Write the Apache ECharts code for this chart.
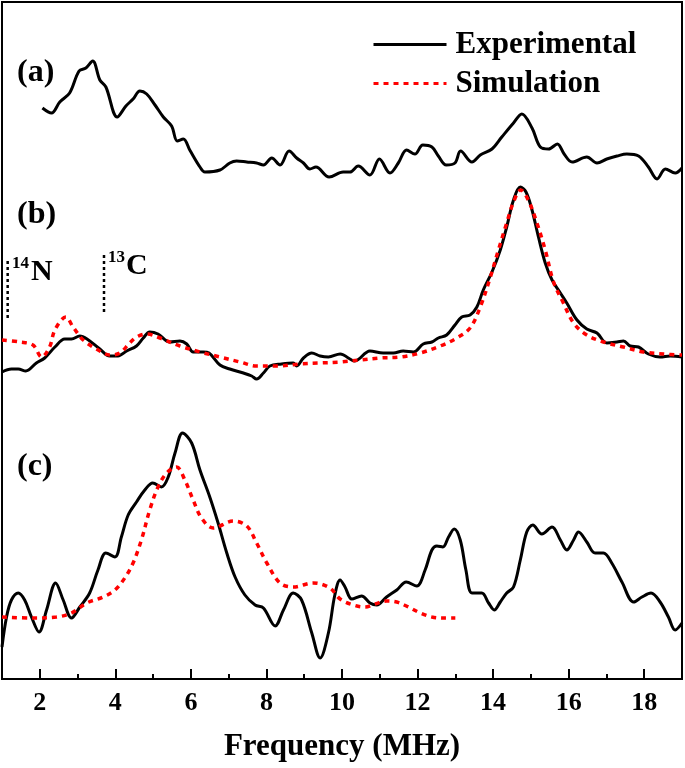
<!DOCTYPE html>
<html>
<head>
<meta charset="utf-8">
<script src="https://cdn.jsdelivr.net/npm/echarts@6/dist/echarts.min.js"></script>
<style>
  body { margin: 0; background: #fff; }
  #main { width: 685px; height: 768px; }
</style>
</head>
<body>
<div id="main"></div>
<script>
// frequency (MHz) vs intensity (a.u., traces offset as in the figure)
var majorTicks = [2, 4, 6, 8, 10, 12, 14, 16, 18];
var minorTicks = [3, 5, 7, 9, 11, 13, 15, 17];

// (a) experimental
var expA = [[2.07,5.71],[2.31,5.66],[2.53,5.77],[2.79,5.86],[3.04,6.08],[3.22,6.11],[3.40,6.18],[3.59,5.99],[3.75,5.92],[4.05,5.62],
  [4.28,5.73],[4.47,5.80],[4.65,5.88],[4.83,5.85],[5.05,5.74],[5.27,5.62],[5.49,5.53],[5.64,5.38],[5.80,5.40],[5.97,5.29],
  [6.24,5.12],[6.37,5.07],[6.77,5.09],[7.03,5.16],[7.21,5.18],[7.48,5.17],[7.74,5.16],[7.92,5.14],[8.14,5.21],[8.36,5.14],
  [8.60,5.28],[8.80,5.21],[8.98,5.16],[9.15,5.10],[9.31,5.12],[9.66,5.02],[10.03,5.07],[10.21,5.07],[10.43,5.13],[10.74,5.04],
  [10.99,5.20],[11.27,5.06],[11.49,5.16],[11.71,5.29],[11.93,5.25],[12.14,5.34],[12.38,5.32],[12.55,5.23],[12.76,5.14],[12.99,5.16],
  [13.14,5.28],[13.44,5.17],[13.66,5.24],[13.97,5.30],[14.23,5.42],[14.54,5.56],[14.76,5.65],[15.03,5.51],[15.25,5.32],[15.47,5.30],
  [15.70,5.35],[15.88,5.25],[16.09,5.17],[16.48,5.22],[16.75,5.16],[17.01,5.20],[17.28,5.23],[17.54,5.25],[17.85,5.23],[18.11,5.12],
  [18.34,5.00],[18.56,5.10],[18.82,5.06],[19.00,5.11]];

// (b) experimental + simulation
var expB = [[1.00,3.07],[1.25,3.10],[1.43,3.10],[1.63,3.08],[1.91,3.16],[2.13,3.21],[2.40,3.32],[2.66,3.40],[2.84,3.40],[3.06,3.43],
  [3.25,3.40],[3.59,3.30],[3.85,3.23],[4.07,3.23],[4.30,3.28],[4.56,3.33],[4.74,3.41],[4.91,3.47],[5.13,3.45],[5.44,3.37],
  [5.71,3.38],[5.89,3.35],[6.06,3.27],[6.33,3.27],[6.48,3.26],[6.77,3.14],[7.03,3.10],[7.39,3.06],[7.61,3.03],[7.74,3.00],
  [7.92,3.06],[8.09,3.13],[8.40,3.15],[8.71,3.16],[8.80,3.13],[8.98,3.21],[9.20,3.26],[9.42,3.23],[9.64,3.22],[9.95,3.25],
  [10.34,3.18],[10.74,3.28],[11.09,3.26],[11.36,3.26],[11.62,3.28],[11.89,3.27],[12.15,3.35],[12.38,3.37],[12.55,3.41],[12.77,3.44],
  [12.99,3.54],[13.17,3.62],[13.39,3.64],[13.57,3.72],[13.74,3.89],[13.97,4.07],[14.19,4.29],[14.36,4.52],[14.54,4.79],[14.72,4.92],
  [14.87,4.87],[15.03,4.69],[15.20,4.42],[15.38,4.16],[15.56,3.99],[15.78,3.86],[15.95,3.76],[16.22,3.59],[16.48,3.50],[16.75,3.46],
  [17.01,3.36],[17.28,3.37],[17.45,3.38],[17.63,3.33],[17.85,3.32],[18.11,3.25],[18.42,3.22],[18.69,3.23],[19.00,3.22]];
var simB = [[1.00,3.39],[1.47,3.37],[1.82,3.34],[2.05,3.22],[2.26,3.32],[2.40,3.49],[2.69,3.62],[2.88,3.52],[3.15,3.39],[3.50,3.30],
  [3.85,3.24],[4.12,3.26],[4.38,3.36],[4.56,3.42],[4.83,3.45],[5.18,3.41],[5.71,3.33],[6.24,3.27],[6.77,3.22],[7.30,3.17],
  [7.74,3.13],[8.27,3.13],[8.89,3.15],[9.42,3.16],[9.95,3.17],[10.48,3.19],[11.01,3.21],[11.54,3.22],[12.07,3.26],[12.60,3.33],
  [13.04,3.41],[13.39,3.51],[13.66,3.72],[13.92,4.01],[14.14,4.29],[14.36,4.56],[14.54,4.77],[14.73,4.89],[14.93,4.79],[15.16,4.56],
  [15.38,4.29],[15.60,3.97],[15.86,3.76],[16.13,3.56],[16.48,3.44],[16.92,3.37],[17.45,3.32],[17.98,3.27],[18.51,3.25],[19.00,3.24]];

// (c) experimental + simulation
var expC = [[1.00,0.32],[1.12,0.62],[1.25,0.79],[1.43,0.86],[1.60,0.79],[1.78,0.62],[1.98,0.47],[2.18,0.69],[2.42,0.96],[2.62,0.79],
  [2.84,0.61],[3.06,0.72],[3.32,0.86],[3.54,1.09],[3.75,1.26],[3.99,1.22],[4.16,1.42],[4.34,1.64],[4.56,1.77],[4.78,1.89],
  [4.99,1.96],[5.22,1.92],[5.40,2.02],[5.58,2.26],[5.78,2.46],[6.02,2.36],[6.24,2.09],[6.50,1.82],[6.72,1.56],[6.95,1.26],
  [7.17,1.02],[7.43,0.84],[7.70,0.74],[7.92,0.71],[8.23,0.53],[8.45,0.69],[8.71,0.86],[8.93,0.79],[9.20,0.46],[9.42,0.21],
  [9.64,0.46],[9.81,0.84],[9.95,0.99],[10.08,0.92],[10.26,0.80],[10.52,0.83],[10.74,0.76],[10.92,0.74],[11.18,0.82],[11.45,0.89],
  [11.70,0.97],[11.98,0.93],[12.20,1.09],[12.38,1.29],[12.51,1.33],[12.67,1.32],[12.82,1.42],[12.97,1.50],[13.13,1.39],[13.28,1.09],
  [13.44,0.86],[13.70,0.86],[13.88,0.76],[14.03,0.69],[14.19,0.77],[14.36,0.86],[14.54,0.92],[14.72,1.19],[14.89,1.47],[15.05,1.54],
  [15.29,1.45],[15.56,1.52],[15.78,1.39],[15.95,1.29],[16.13,1.39],[16.26,1.47],[16.48,1.37],[16.70,1.26],[16.92,1.26],[17.14,1.16],
  [17.41,0.97],[17.72,0.77],[17.94,0.82],[18.18,0.86],[18.42,0.77],[18.64,0.62],[18.82,0.49],[19.00,0.56]];
var simC = [[1.00,0.62],[1.82,0.61],[2.44,0.62],[2.84,0.66],[3.24,0.76],[3.68,0.82],[3.99,0.89],[4.25,1.01],[4.47,1.16],[4.69,1.39],
  [4.91,1.69],[5.13,1.92],[5.36,2.06],[5.62,2.12],[5.84,1.99],[6.06,1.79],[6.28,1.61],[6.59,1.51],[7.12,1.58],[7.48,1.53],
  [7.74,1.36],[8.01,1.16],[8.36,0.96],[8.71,0.92],[9.24,0.96],[9.68,0.91],[9.95,0.80],[10.30,0.74],[10.61,0.72],[10.87,0.75],
  [11.18,0.78],[11.45,0.77],[11.76,0.72],[12.07,0.66],[12.38,0.62],[12.68,0.61],[13.00,0.61]];

// Larmor markers (14N, 13C) in panel (b)
var markN14 = [[1.15,3.61],[1.15,4.21]];
var markC13 = [[3.70,3.67],[3.70,4.27]];

var font = "'Times New Roman', 'Liberation Serif', serif";

function expLine(data) {
  return { name: 'Experimental', type: 'line', data: data, symbol: 'none', smooth: 0.35,
    lineStyle: { color: '#000', width: 3 }, itemStyle: { color: '#000' } };
}
function simLine(data) {
  return { name: 'Simulation', type: 'line', data: data, symbol: 'none', smooth: 0.35,
    lineStyle: { color: '#ff0000', width: 3.5, type: [5, 5] }, itemStyle: { color: '#ff0000' } };
}
function markLine(data) {
  return { name: 'marker', type: 'line', data: data, symbol: 'none', silent: true,
    lineStyle: { color: '#000', width: 2.5, type: [3, 3] } };
}

var myChart = echarts.init(document.getElementById('main'));
myChart.setOption({
  animation: false,
  grid: { left: 2, right: 3, top: 2, bottom: 89, show: true, borderColor: '#000', borderWidth: 2 },
  legend: {
    data: ['Experimental', 'Simulation'],
    orient: 'vertical', left: 372, top: 29, padding: 0,
    itemWidth: 73, itemHeight: 14, itemGap: 8, selectedMode: false,
    itemStyle: { opacity: 0 },
    lineStyle: { width: 3 },
    textStyle: { fontFamily: font, fontWeight: 'bold', fontSize: 31, color: '#000', padding: [0, 0, 0, 4] }
  },
  xAxis: [
    {
      type: 'value', min: 1, max: 19, position: 'bottom',
      name: 'Frequency (MHz)', nameLocation: 'middle', nameGap: 52,
      nameTextStyle: { fontFamily: font, fontWeight: 'bold', fontSize: 31, color: '#000' },
      axisLine: { lineStyle: { color: '#000', width: 2 } },
      axisTick: { customValues: majorTicks, inside: true, length: 10, lineStyle: { color: '#000', width: 2 } },
      axisLabel: { customValues: majorTicks, margin: 11, fontFamily: font, fontWeight: 'bold', fontSize: 26, color: '#000' },
      splitLine: { show: false }
    },
    {
      type: 'value', min: 1, max: 19, position: 'bottom',
      axisLine: { show: false },
      axisTick: { customValues: minorTicks, inside: true, length: 5, lineStyle: { color: '#000', width: 2 } },
      axisLabel: { show: false },
      splitLine: { show: false }
    }
  ],
  yAxis: { type: 'value', min: 0, max: 6.77, show: false },
  graphic: [
    { type: 'text', left: 17, top: 57, style: { text: '(a)', font: 'bold 32px ' + font, fill: '#000' } },
    { type: 'text', left: 17, top: 199, style: { text: '(b)', font: 'bold 32px ' + font, fill: '#000' } },
    { type: 'text', left: 17, top: 451, style: { text: '(c)', font: 'bold 32px ' + font, fill: '#000' } },
    { type: 'text', left: 12, top: 255, style: { text: '14', font: 'bold 17px ' + font, fill: '#000' } },
    { type: 'text', left: 31, top: 257, style: { text: 'N', font: 'bold 30px ' + font, fill: '#000' } },
    { type: 'text', left: 108, top: 249, style: { text: '13', font: 'bold 17px ' + font, fill: '#000' } },
    { type: 'text', left: 126, top: 251, style: { text: 'C', font: 'bold 30px ' + font, fill: '#000' } }
  ],
  series: [
    expLine(expA),
    expLine(expB),
    simLine(simB),
    expLine(expC),
    simLine(simC),
    markLine(markN14),
    markLine(markC13)
  ]
});
</script>
</body>
</html>
